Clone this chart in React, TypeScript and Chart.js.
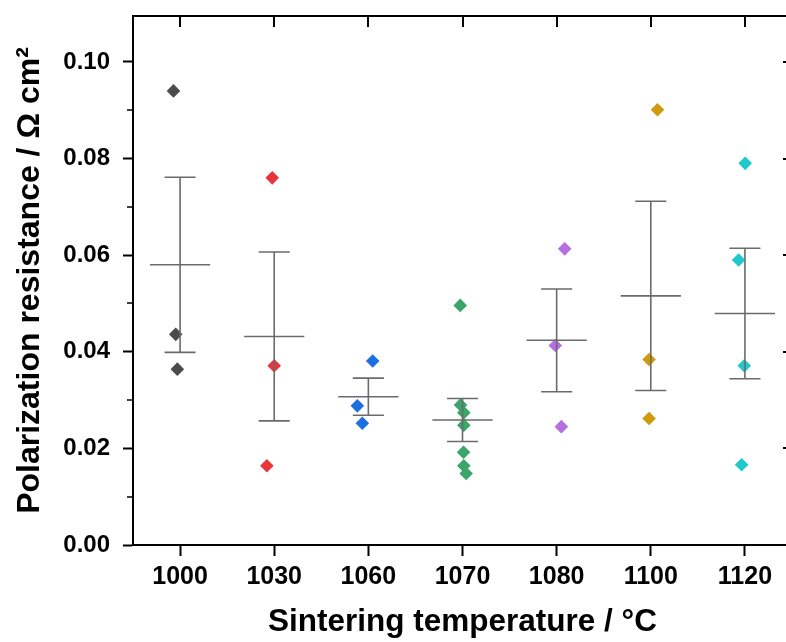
import React, { useEffect, useRef } from "react";
import { Chart, registerables } from "chart.js";

Chart.register(...registerables);

const FONT = "'Liberation Sans', Arial, Helvetica, sans-serif";

// ---- data ----
const CATEGORIES = ["1000", "1030", "1060", "1070", "1080", "1100", "1120"];
const Y_TICKS = [0, 0.02, 0.04, 0.06, 0.08, 0.1];
const Y_MINOR_TICKS = [0.01, 0.03, 0.05, 0.07, 0.09];
const Y_MAX = 0.1095;

const R1000 = [0.094, 0.0436, 0.0364];
const R1030 = [0.076, 0.0371, 0.0164];
const R1060 = [0.0381, 0.0288, 0.0252];
const R1070 = [0.0496, 0.029, 0.0274, 0.0248, 0.0192, 0.0164, 0.0148];
const R1080 = [0.0613, 0.0413, 0.0245];
const R1100 = [0.0901, 0.0384, 0.0262];
const R1120 = [0.079, 0.059, 0.0371, 0.0166];

// horizontal scatter of replicate markers (fraction of a category)
const J1000 = [-0.07, -0.046, -0.029];
const J1030 = [-0.021, 0.0, -0.078];
const J1060 = [0.046, -0.117, -0.064];
const J1070 = [-0.024, -0.021, 0.014, 0.014, 0.011, 0.014, 0.039];
const J1080 = [0.085, -0.014, 0.05];
const J1100 = [0.071, -0.018, -0.018];
const J1120 = [0.003, -0.067, -0.007, -0.035];

const SERIES = [R1000, R1030, R1060, R1070, R1080, R1100, R1120];
const JITTER = [J1000, J1030, J1060, J1070, J1080, J1100, J1120];
const COLORS = ["#4b4b4b", "#e8353b", "#1c6fe0", "#3aa66a", "#b46fe0", "#cf9a0c", "#20c8cc"];

const ERR_COLOR = "#6b6b6b";

function mean(a: number[]) {
  return a.reduce((s, v) => s + v, 0) / a.length;
}
function stdErr(a: number[]) {
  const m = mean(a);
  const v = a.reduce((s, x) => s + (x - m) * (x - m), 0) / (a.length - 1);
  return Math.sqrt(v) / Math.sqrt(a.length);
}

const framePlugin = {
  id: "frameAndErrors",
  afterDatasetsDraw(chart: any) {
    const { ctx, scales } = chart;
    const xs = scales.x;
    const ys = scales.y;
    ctx.save();
    ctx.strokeStyle = ERR_COLOR;
    ctx.lineWidth = 1.6;
    SERIES.forEach((vals, i) => {
      const m = mean(vals);
      const se = stdErr(vals);
      const cx = xs.getPixelForValue(i);
      const hm = xs.getPixelForValue(i + 0.32) - cx;
      const hc = xs.getPixelForValue(i + 0.165) - cx;
      const yt = ys.getPixelForValue(m + se);
      const yb = ys.getPixelForValue(m - se);
      const ym = ys.getPixelForValue(m);
      ctx.beginPath();
      ctx.moveTo(cx, yt);
      ctx.lineTo(cx, yb);
      ctx.moveTo(cx - hc, yt);
      ctx.lineTo(cx + hc, yt);
      ctx.moveTo(cx - hc, yb);
      ctx.lineTo(cx + hc, yb);
      ctx.moveTo(cx - hm, ym);
      ctx.lineTo(cx + hm, ym);
      ctx.stroke();
    });
    ctx.restore();
  },
  afterDraw(chart: any) {
    const { ctx, chartArea: a, scales } = chart;
    const xs = scales.x;
    const ys = scales.y;
    ctx.save();
    ctx.strokeStyle = "#000";
    ctx.lineWidth = 2;
    ctx.beginPath();
    // top & right frame
    ctx.moveTo(a.left - 1, a.top);
    ctx.lineTo(a.right, a.top);
    ctx.moveTo(a.right, a.top);
    ctx.lineTo(a.right, a.bottom);
    // top inward ticks
    CATEGORIES.forEach((_, i) => {
      const px = Math.round(xs.getPixelForValue(i));
      ctx.moveTo(px, a.top);
      ctx.lineTo(px, a.top + 11);
    });
    // right inward major ticks
    Y_TICKS.forEach((v) => {
      const py = Math.round(ys.getPixelForValue(v));
      ctx.moveTo(a.right, py);
      ctx.lineTo(a.right - 9, py);
    });
    ctx.stroke();
    ctx.lineWidth = 1.5;
    ctx.beginPath();
    Y_MINOR_TICKS.forEach((v) => {
      const py = Math.round(ys.getPixelForValue(v));
      ctx.moveTo(a.left, py);
      ctx.lineTo(a.left - 6, py);
      ctx.moveTo(a.right, py);
      ctx.lineTo(a.right - 5, py);
    });
    ctx.stroke();
    ctx.restore();
  },
};

export default function App() {
  const ref = useRef<HTMLCanvasElement | null>(null);

  useEffect(() => {
    if (!ref.current) return;
    const chart = new Chart(ref.current, {
      type: "scatter",
      data: {
        datasets: SERIES.map((vals, i) => ({
          label: CATEGORIES[i],
          data: vals.map((v, j) => ({ x: i + JITTER[i][j], y: v })),
          pointStyle: "rectRot",
          pointRadius: 6.8,
          pointHoverRadius: 6.8,
          backgroundColor: COLORS[i],
          borderColor: COLORS[i],
          borderWidth: 0,
        })),
      },
      options: {
        responsive: false,
        animation: false,
        devicePixelRatio: 1,
        layout: { padding: { top: 16, right: 8, bottom: 1, left: 0 } },
        plugins: { legend: { display: false }, tooltip: { enabled: false } },
        scales: {
          x: {
            type: "linear",
            min: -0.5,
            max: 6.5,
            afterBuildTicks: (s: any) => {
              s.ticks = CATEGORIES.map((_, i) => ({ value: i }));
            },
            afterFit: (s: any) => {
              s.height = 96;
              s.paddingLeft = 0;
              s.paddingRight = 0;
            },
            ticks: {
              callback: (v: any) => CATEGORIES[Math.round(v)] ?? "",
              font: { family: FONT, size: 25, weight: "bold" },
              color: "#000",
              padding: 6,
              maxRotation: 0,
              autoSkip: false,
            },
            grid: {
              display: true,
              drawOnChartArea: false,
              drawTicks: true,
              tickLength: 11,
              tickWidth: 2,
              tickColor: "#000",
              color: "#000",
            },
            border: { display: true, color: "#000", width: 2 },
            title: {
              display: true,
              text: "Sintering temperature / °C",
              font: { family: FONT, size: 31.5, weight: "bold" },
              color: "#000",
              padding: { top: 0, bottom: 0 },
            },
          },
          y: {
            type: "linear",
            min: 0,
            max: Y_MAX,
            afterBuildTicks: (s: any) => {
              s.ticks = Y_TICKS.map((v) => ({ value: v }));
            },
            afterFit: (s: any) => {
              s.width = 133;
              s.paddingTop = 0;
              s.paddingBottom = 0;
            },
            ticks: {
              callback: (v: any) => Number(v).toFixed(2),
              font: { family: FONT, size: 24, weight: "bold" },
              color: "#000",
              padding: 13,
            },
            grid: {
              display: true,
              drawOnChartArea: false,
              drawTicks: true,
              tickLength: 10,
              tickWidth: 2,
              tickColor: "#000",
              color: "#000",
            },
            border: { display: true, color: "#000", width: 2 },
            title: {
              display: true,
              text: "Polarization resistance / Ω cm²",
              font: { family: FONT, size: 32, weight: "bold" },
              color: "#000",
              padding: { top: 11, bottom: 0 },
            },
          },
        },
      },
      plugins: [framePlugin],
    } as any);
    return () => chart.destroy();
  }, []);

  return (
    <div
      style={{
        position: "fixed",
        left: 0,
        top: 0,
        width: 786,
        height: 642,
        overflow: "hidden",
        background: "#fff",
      }}
    >
      <canvas ref={ref} width={800} height={642} style={{ display: "block" }} />
    </div>
  );
}
